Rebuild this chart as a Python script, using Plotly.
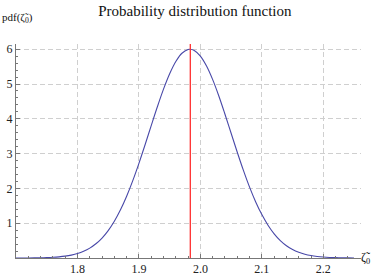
import plotly.graph_objects as go

# curve values
zeta_vals = [1.70, 1.71, 1.72, 1.73, 1.74, 1.75, 1.76, 1.77, 1.78, 1.79,
             1.80, 1.81, 1.82, 1.83, 1.84, 1.85, 1.86, 1.87, 1.88, 1.89,
             1.90, 1.91, 1.92, 1.93, 1.94, 1.95, 1.96, 1.97, 1.98, 1.983, 1.99,
             2.00, 2.01, 2.02, 2.03, 2.04, 2.05, 2.06, 2.07, 2.08, 2.09,
             2.10, 2.11, 2.12, 2.13, 2.14, 2.15, 2.16, 2.17, 2.18, 2.19,
             2.20, 2.21, 2.22, 2.23, 2.24, 2.25]
pdf_vals = [0.0006, 0.0012, 0.0021, 0.0039, 0.0068, 0.0118, 0.0199, 0.0329, 0.053, 0.0835,
            0.128, 0.193, 0.284, 0.409, 0.574, 0.788, 1.057, 1.385, 1.775, 2.224,
            2.721, 3.254, 3.805, 4.346, 4.853, 5.295, 5.647, 5.885, 5.994, 6.0, 5.966,
            5.804, 5.518, 5.127, 4.657, 4.132, 3.584, 3.039, 2.517, 2.037, 1.612,
            1.247, 0.942, 0.696, 0.502, 0.354, 0.244, 0.165, 0.108, 0.0698, 0.0439,
            0.027, 0.0162, 0.0095, 0.0055, 0.0031, 0.0017]
mean_zeta = 1.9836
x_ticks = [1.8, 1.9, 2.0, 2.1, 2.2]
x_tick_labels = ["1.8", "1.9", "2.0", "2.1", "2.2"]
y_ticks = [1, 2, 3, 4, 5, 6]
y_tick_labels = ["1", "2", "3", "4", "5", "6"]
x_range = [1.7, 2.2613]
y_range = [0, 6.15]
x_label = "ζ̃<sub>0</sub>"
y_label = "pdf(ζ̃<sub>0</sub>)"

serif = "Liberation Serif, Times New Roman, serif"

fig = go.Figure()
fig.add_trace(go.Scatter(x=zeta_vals, y=pdf_vals, mode="lines",
                         line=dict(color="#4848a8", width=1.1), line_shape="spline",
                         hoverinfo="skip", showlegend=False))
fig.add_trace(go.Scatter(x=[mean_zeta, mean_zeta], y=y_range, mode="lines",
                         line=dict(color="#ff3030", width=1.3),
                         hoverinfo="skip", showlegend=False))
# x-axis label placed just right of the axis end
fig.add_trace(go.Scatter(x=[x_range[1]], y=[0], mode="text", text=[x_label],
                         textposition="middle right", cliponaxis=False,
                         textfont=dict(family=serif, size=12, color="#111111"),
                         hoverinfo="skip", showlegend=False))

axis_common = dict(showline=True, linecolor="#777777", linewidth=1,
                   ticks="inside", ticklen=4, tickcolor="#777777", tickwidth=1,
                   showgrid=True, gridcolor="#cfcfcf", griddash="5px,3px", gridwidth=1,
                   zeroline=False, mirror=False, automargin=False,
                   tickfont=dict(family=serif, size=12, color="#222222"))

fig.update_xaxes(range=x_range, tickvals=x_ticks, ticktext=x_tick_labels,
                 minor=dict(tick0=1.7, dtick=0.02, ticks="inside", ticklen=2,
                            tickcolor="#777777", showgrid=False),
                 **axis_common)
fig.update_yaxes(range=y_range, tickvals=y_ticks, ticktext=y_tick_labels,
                 minor=dict(tick0=0, dtick=0.2, ticks="inside", ticklen=2,
                            tickcolor="#777777", showgrid=False),
                 **axis_common)

fig.update_layout(
    width=382, height=275,
    margin=dict(l=16, r=21, t=44, b=17, autoexpand=False),
    paper_bgcolor="white", plot_bgcolor="white",
    hovermode=False,
    title=dict(text="Probability distribution function", x=0.51, xanchor="center",
               xref="container", y=1 - 11 / 275, yref="container", yanchor="middle",
               font=dict(family=serif, size=15, color="#111111")),
    annotations=[
        dict(text=y_label, xref="paper", yref="paper",
             x=-16 / 345, y=(258 - 18) / 214, xanchor="left", yanchor="middle",
             showarrow=False, font=dict(family=serif, size=11, color="#111111")),
    ],
)

fig.write_html("out.html",
               config={"displayModeBar": False, "staticPlot": True},
               post_script="document.body.style.margin='0';document.body.style.padding='0';")
